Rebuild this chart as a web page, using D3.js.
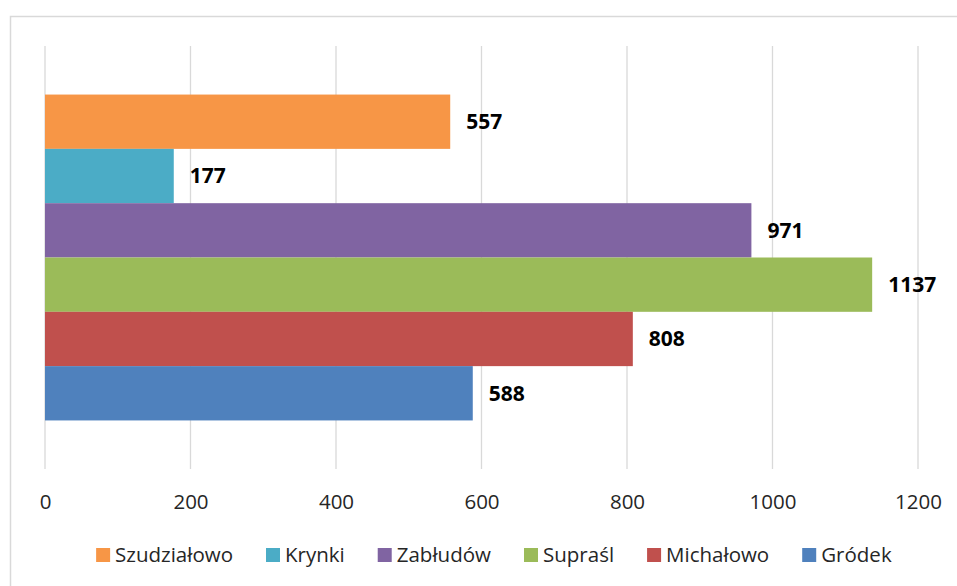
<!DOCTYPE html>
<html>
<head>
<meta charset="utf-8">
<script src="https://cdn.jsdelivr.net/npm/d3@7"></script>
<style>
  body { margin: 0; background: #fff; }
  svg { display: block; font-family: "Open Sans", sans-serif; }
</style>
</head>
<body>
<div id="chart"></div>
<script>
// dane
const series = ["Szudziałowo", "Krynki", "Zabłudów", "Supraśl", "Michałowo", "Gródek"];
const values = [557, 177, 971, 1137, 808, 588];
const colors = ["#F79646", "#4BACC6", "#8064A2", "#9BBB59", "#C0504D", "#4F81BD"];
const ticks = [0, 200, 400, 600, 800, 1000, 1200];

const W = 957, H = 586;
const plot = { left: 45, right: 918, top: 46, bottom: 469 };

const svg = d3.select("#chart")
    .append("svg")
    .attr("width", W)
    .attr("height", H);

// ramka wykresu
svg.append("rect")
    .attr("x", 10.5)
    .attr("y", 16.5)
    .attr("width", 1000)
    .attr("height", 1000)
    .attr("fill", "none")
    .attr("stroke", "#d9d9d9")
    .attr("stroke-width", 1.5);

const x = d3.scaleLinear()
    .domain([0, 1200])
    .range([plot.left, plot.right]);

const y0 = d3.scaleBand()
    .domain(["kat"])
    .range([plot.top, plot.bottom])
    .paddingInner(0)
    .paddingOuter(0.149);

const y1 = d3.scaleBand()
    .domain(series)
    .range([0, y0.bandwidth()]);

// linie siatki
svg.append("g")
    .selectAll("line")
    .data(ticks)
    .enter()
    .append("line")
    .attr("x1", d => x(d))
    .attr("x2", d => x(d))
    .attr("y1", plot.top)
    .attr("y2", plot.bottom)
    .attr("stroke", "#d9d9d9")
    .attr("stroke-width", 1.3);

// słupki
const data = series.map((s, i) => ({ name: s, value: values[i], color: colors[i] }));

const g = svg.append("g")
    .attr("transform", `translate(0,${y0("kat")})`);

g.selectAll("rect")
    .data(data)
    .enter()
    .append("rect")
    .attr("x", x(0))
    .attr("y", d => y1(d.name))
    .attr("width", d => x(d.value) - x(0))
    .attr("height", y1.bandwidth())
    .attr("fill", d => d.color);

g.selectAll(".label")
    .data(data)
    .enter()
    .append("text")
    .attr("class", "label")
    .attr("x", d => x(d.value) + 16)
    .attr("y", d => y1(d.name) + y1.bandwidth() / 2)
    .attr("dy", "0.35em")
    .attr("font-size", "21px")
    .attr("font-weight", "bold")
    .attr("fill", "#000")
    .text(d => d.value);

// oś X (tylko etykiety)
const axis = svg.append("g")
    .attr("transform", `translate(0,${plot.bottom})`)
    .call(d3.axisBottom(x).tickValues(ticks).tickFormat(d3.format("d")).tickSize(0).tickPadding(25));
axis.select(".domain").remove();
axis.selectAll("text")
    .attr("font-size", "20.5px")
    .attr("font-family", "Open Sans, sans-serif")
    .attr("fill", "#262626");

// legenda
const legend = svg.append("g");
const items = legend.selectAll("g")
    .data(data)
    .enter()
    .append("g");

items.append("rect")
    .attr("width", 14)
    .attr("height", 14)
    .attr("y", -7)
    .attr("fill", d => d.color);

items.append("text")
    .attr("x", 19)
    .attr("dy", "0.35em")
    .attr("font-size", "20.5px")
    .attr("fill", "#262626")
    .text(d => d.name);

let pos = 0;
const gap = 33;
items.each(function () {
    const w = this.getBBox().width;
    d3.select(this).attr("transform", `translate(${pos},0)`);
    pos += w + gap;
});
const total = pos - gap;
legend.attr("transform", `translate(${494 - total / 2},555)`);
</script>
</body>
</html>
